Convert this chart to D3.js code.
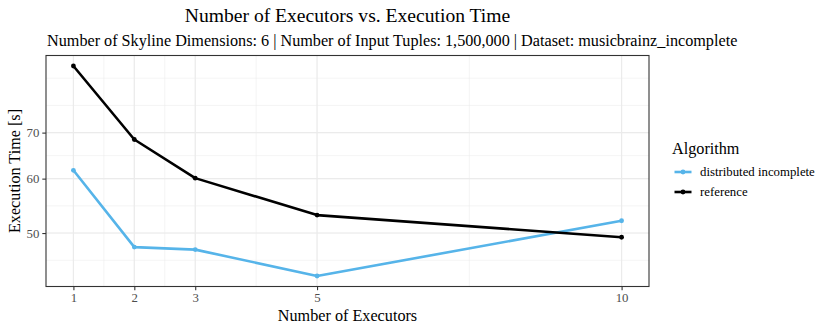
<!DOCTYPE html>
<html><head><meta charset="utf-8">
<script src="https://cdn.jsdelivr.net/npm/d3@7"></script>
<style>body{margin:0;background:#fff}svg{display:block}text{font-family:"Liberation Serif","Times New Roman",serif}</style>
</head><body><svg id="c" width="830" height="332"></svg>
<script>
const executors = [1, 2, 3, 5, 10];
const xTicks = [1, 2, 3, 5, 10];
const yTicks = [50, 60, 70];
const seriesNames = ["distributed incomplete", "reference"];
const distributedIncomplete = [61.7, 47.7, 47.3, 43.3, 52.1];
const reference = [87.5, 68.4, 60.1, 53.1, 49.3];
const colors = ["#56B4E9", "#000000"];
const title = "Number of Executors vs. Execution Time";
const subtitle = "Number of Skyline Dimensions: 6 | Number of Input Tuples: 1,500,000 | Dataset: musicbrainz_incomplete";

const FONT = '"Liberation Serif","Times New Roman",serif';
const series = [distributedIncomplete, reference];
const svg = d3.select("#c");
const L = 46, R = 649, T = 55.5, B = 286.5;

const xMin = d3.min(executors), xMax = d3.max(executors);
const xPad = (xMax - xMin) * 0.05;
const x = d3.scaleLinear().domain([xMin - xPad, xMax + xPad]).range([L, R]);

const allY = series.flat();
const lyMin = Math.log(d3.min(allY)), lyMax = Math.log(d3.max(allY));
const lyPad = (lyMax - lyMin) * 0.05;
const y = d3.scaleLog().domain([Math.exp(lyMin - lyPad), Math.exp(lyMax + lyPad)]).range([B, T]);

// minor breaks (ggplot style)
function minorBreaks(b, tf, inv, lim) {
  b = b.map(tf);
  const bd = b[1] - b[0];
  const lo = tf(lim[0]), hi = tf(lim[1]);
  if (lo < b[0]) b = [b[0] - bd].concat(b);
  if (hi > b[b.length - 1]) b = b.concat([b[b.length - 1] + bd]);
  const out = [];
  for (let i = 0; i < b.length - 1; i++) { out.push(b[i], (b[i] + b[i + 1]) / 2); }
  out.push(b[b.length - 1]);
  return out.filter(v => v >= lo && v <= hi).map(inv);
}
const xMinor = minorBreaks(xTicks, v => v, v => v, x.domain());
const yMinor = minorBreaks(yTicks, Math.log, Math.exp, y.domain());

const g = svg.append("g");
g.append("rect").attr("x", L).attr("y", T).attr("width", R - L).attr("height", B - T).attr("fill", "#fff");
g.selectAll(".ymin").data(yMinor).join("line").attr("x1", L).attr("x2", R)
  .attr("y1", d => y(d)).attr("y2", d => y(d)).attr("stroke", "#EBEBEB").attr("stroke-width", 0.55);
g.selectAll(".xmin").data(xMinor).join("line").attr("y1", T).attr("y2", B)
  .attr("x1", d => x(d)).attr("x2", d => x(d)).attr("stroke", "#EBEBEB").attr("stroke-width", 0.55);
g.selectAll(".ymaj").data(yTicks).join("line").attr("x1", L).attr("x2", R)
  .attr("y1", d => y(d)).attr("y2", d => y(d)).attr("stroke", "#EBEBEB").attr("stroke-width", 1.1);
g.selectAll(".xmaj").data(xTicks).join("line").attr("y1", T).attr("y2", B)
  .attr("x1", d => x(d)).attr("x2", d => x(d)).attr("stroke", "#EBEBEB").attr("stroke-width", 1.1);

// lines
const line = d3.line().x((d, i) => x(executors[i])).y(d => y(d));
series.forEach((s, k) => {
  g.append("path").datum(s).attr("d", line).attr("fill", "none")
    .attr("stroke", colors[k]).attr("stroke-width", 2.6).attr("stroke-linejoin", "round");
  g.selectAll(".p" + k).data(s).join("circle").attr("cx", (d, i) => x(executors[i])).attr("cy", d => y(d))
    .attr("r", 2.4).attr("fill", colors[k]);
});

g.append("rect").attr("x", L).attr("y", T).attr("width", R - L).attr("height", B - T)
  .attr("fill", "none").attr("stroke", "#333333").attr("stroke-width", 1.1);

// axes
const xAxis = d3.axisBottom(x).tickValues(xTicks).tickSize(3.7).tickPadding(3).tickFormat(d3.format("d"));
const xa = svg.append("g").attr("transform", `translate(0,${B})`).call(xAxis);
const yAxis = d3.axisLeft(y).tickValues(yTicks).tickSize(3.7).tickPadding(3).tickFormat(d3.format("d"));
const ya = svg.append("g").attr("transform", `translate(${L},0)`).call(yAxis);
[xa, ya].forEach(a => {
  a.attr("font-family", FONT).attr("font-size", 12.8);
  a.select(".domain").remove();
  a.selectAll(".tick line").attr("stroke", "#333333").attr("stroke-width", 1.1);
  a.selectAll(".tick text").attr("fill", "#4D4D4D").attr("font-family", FONT).attr("font-size", 12.8);
});

function txt(parent, s, size) {
  return parent.append("text").attr("font-family", FONT).attr("font-size", size).attr("fill", "#000").text(s);
}
// titles
txt(svg, title, 19.6).attr("x", (L + R) / 2).attr("y", 22).attr("text-anchor", "middle");
txt(svg, subtitle, 16.2).attr("x", L + 1).attr("y", 46).attr("text-anchor", "start");
txt(svg, "Number of Executors", 16.2).attr("x", (L + R) / 2).attr("y", 321).attr("text-anchor", "middle");
txt(svg, "Execution Time [s]", 16.2).attr("transform", `translate(20,${(T + B) / 2}) rotate(-90)`).attr("text-anchor", "middle");

// legend
const lg = svg.append("g");
txt(lg, "Algorithm", 16.2).attr("x", 672).attr("y", 154);
seriesNames.forEach((n, i) => {
  const cy = 172 + i * 20;
  lg.append("line").attr("x1", 674.5).attr("x2", 691.5).attr("y1", cy).attr("y2", cy)
    .attr("stroke", colors[i]).attr("stroke-width", 2.6);
  lg.append("circle").attr("cx", 683).attr("cy", cy).attr("r", 2.4).attr("fill", colors[i]);
  txt(lg, n, 12.8).attr("x", 700).attr("y", cy + 4);
});
</script></body></html>
